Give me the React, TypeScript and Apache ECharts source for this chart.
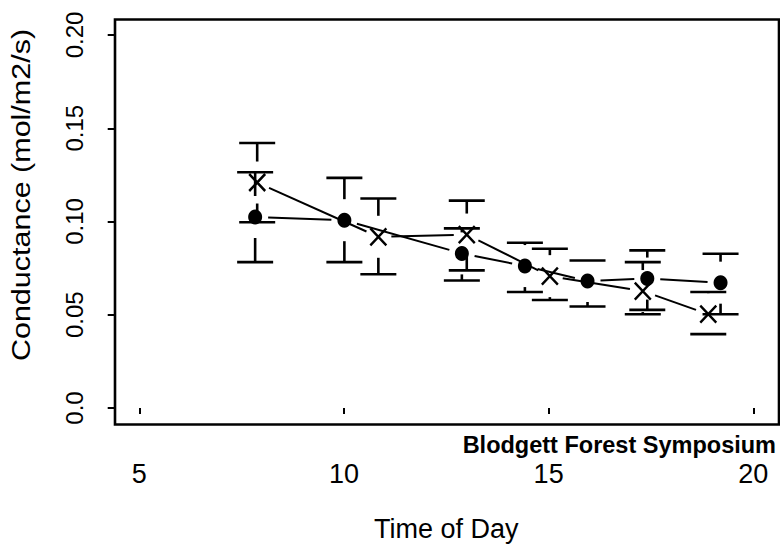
import React, { useEffect, useRef } from "react";
import * as echarts from "echarts";

// Mean conductance by time of day, two groups, with ± error limits
const dotTime = [7.83, 10.01, 12.88, 14.42, 15.95, 17.41, 19.2];
const dotMean = [0.1024, 0.1007, 0.0829, 0.0761, 0.0681, 0.0694, 0.0672];
const dotLow = [0.0782, 0.0782, 0.0684, 0.0622, 0.0544, 0.0526, 0.0503];
const dotHigh = [0.1264, 0.1234, 0.0963, 0.0886, 0.0791, 0.0845, 0.0827];

const crossTime = [7.88, 10.84, 13.0, 15.03, 17.3, 18.9];
const crossMean = [0.1209, 0.0918, 0.093, 0.0707, 0.0627, 0.0503];
const crossLow = [0.0996, 0.0717, 0.0738, 0.0579, 0.0503, 0.0396];
const crossHigh = [0.1421, 0.1123, 0.1112, 0.0854, 0.0782, 0.0622];

const xTicks = [5, 10, 15, 20];
const yTicks = [0, 0.05, 0.1, 0.15, 0.2];

const FONT = "'Liberation Sans', Arial, Helvetica, sans-serif";
const INK = "#000";
const BAR_GAP = 21; // blank space (px) between a mean and its error bar
const LINE_GAP = 13; // blank space (px) between a point and its connecting line
const CAP_HALF = 18;

function errorBarSeries(time: number[], mean: number[], low: number[], high: number[]) {
  return {
    type: "custom",
    silent: true,
    z: 3,
    data: time.map((t, i) => [t, low[i], high[i], mean[i]]),
    renderItem: (params: any, api: any) => {
      const x = api.value(0);
      const pLo = api.coord([x, api.value(1)]);
      const pHi = api.coord([x, api.value(2)]);
      const pM = api.coord([x, api.value(3)]);
      const style = { stroke: INK, lineWidth: 2.6 };
      const children: any[] = [
        { type: "line", shape: { x1: pHi[0] - CAP_HALF, y1: pHi[1], x2: pHi[0] + CAP_HALF, y2: pHi[1] }, style },
        { type: "line", shape: { x1: pLo[0] - CAP_HALF, y1: pLo[1], x2: pLo[0] + CAP_HALF, y2: pLo[1] }, style },
      ];
      if (pM[1] - BAR_GAP > pHi[1]) {
        children.push({ type: "line", shape: { x1: pM[0], y1: pHi[1], x2: pM[0], y2: pM[1] - BAR_GAP }, style });
      }
      if (pM[1] + BAR_GAP < pLo[1]) {
        children.push({ type: "line", shape: { x1: pM[0], y1: pM[1] + BAR_GAP, x2: pM[0], y2: pLo[1] }, style });
      }
      return { type: "group", children };
    },
  };
}

function gappedLineSeries(time: number[], mean: number[]) {
  const segs: number[][] = [];
  for (let i = 0; i < time.length - 1; i++) {
    segs.push([time[i], mean[i], time[i + 1], mean[i + 1]]);
  }
  return {
    type: "custom",
    silent: true,
    z: 2,
    data: segs,
    renderItem: (params: any, api: any) => {
      const a = api.coord([api.value(0), api.value(1)]);
      const b = api.coord([api.value(2), api.value(3)]);
      const dx = b[0] - a[0];
      const dy = b[1] - a[1];
      const len = Math.sqrt(dx * dx + dy * dy);
      if (len <= 2 * LINE_GAP) return { type: "group", children: [] };
      const ux = dx / len;
      const uy = dy / len;
      return {
        type: "line",
        shape: {
          x1: a[0] + ux * LINE_GAP,
          y1: a[1] + uy * LINE_GAP,
          x2: b[0] - ux * LINE_GAP,
          y2: b[1] - uy * LINE_GAP,
        },
        style: { stroke: INK, lineWidth: 2 },
      };
    },
  };
}

export default function App() {
  const ref = useRef<HTMLDivElement>(null);

  useEffect(() => {
    if (!ref.current) return;
    const chart = echarts.init(ref.current, undefined, { renderer: "svg" });
    const option: any = {
      animation: false,
      backgroundColor: "#fff",
      grid: { left: 139.3, right: 780 - 753.3, top: 35, bottom: 547 - 409, containLabel: false },
      xAxis: {
        type: "value",
        min: xTicks[0],
        max: xTicks[xTicks.length - 1],
        interval: 5,
        offset: 18,
        axisLine: { show: false },
        axisTick: { show: true, length: 6, lineStyle: { color: INK, width: 2 } },
        axisLabel: { margin: 34.5, fontSize: 27, color: INK, fontFamily: FONT },
        splitLine: { show: false },
        name: "Time of Day",
        nameLocation: "middle",
        nameGap: 89,
        nameTextStyle: { fontSize: 27, color: INK, fontFamily: FONT },
      },
      yAxis: {
        type: "value",
        min: yTicks[0],
        max: yTicks[yTicks.length - 1],
        interval: 0.05,
        offset: 24.6,
        axisLine: { show: false },
        axisTick: { show: true, length: 7, lineStyle: { color: INK, width: 2 } },
        axisLabel: {
          rotate: 90,
          margin: 28.5,
          fontSize: 24,
          color: INK,
          fontFamily: FONT,
          formatter: (v: number) => (v === 0 ? "0.0" : v.toFixed(2)),
        },
        splitLine: { show: false },
      },
      graphic: [
        {
          type: "rect",
          shape: { x: 115, y: 19.5, width: 664, height: 405 },
          style: { fill: "none", stroke: INK, lineWidth: 2.6 },
          silent: true,
        },
        {
          type: "text",
          x: 21,
          y: 195,
          rotation: Math.PI / 2,
          scaleX: 1.22,
          style: {
            text: "Conductance (mol/m2/s)",
            fontSize: 25,
            fontFamily: FONT,
            fill: INK,
            align: "center",
            verticalAlign: "middle",
            textAlign: "center",
            textVerticalAlign: "middle",
          },
        },
        {
          type: "text",
          x: 776,
          y: 445,
          style: {
            text: "Blodgett Forest Symposium",
            fontSize: 23.5,
            fontWeight: "bold",
            fontFamily: FONT,
            fill: INK,
            align: "right",
            verticalAlign: "middle",
            textAlign: "right",
            textVerticalAlign: "middle",
          },
        },
      ],
      series: [
        gappedLineSeries(dotTime, dotMean),
        gappedLineSeries(crossTime, crossMean),
        errorBarSeries(dotTime, dotMean, dotLow, dotHigh),
        errorBarSeries(crossTime, crossMean, crossLow, crossHigh),
        {
          type: "scatter",
          z: 4,
          symbol: "circle",
          symbolSize: [14, 15],
          itemStyle: { color: INK, opacity: 1 },
          data: dotTime.map((t, i) => [t, dotMean[i]]),
        },
        {
          type: "scatter",
          z: 4,
          symbol: "path://M0,0L16,17M16,0L0,17",
          symbolSize: [16, 17],
          itemStyle: { color: "none", borderColor: INK, borderWidth: 2.5, opacity: 1 },
          data: crossTime.map((t, i) => [t, crossMean[i]]),
        },
      ],
    };
    chart.setOption(option);
    return () => chart.dispose();
  }, []);

  return (
    <div
      ref={ref}
      style={{ position: "fixed", left: 0, top: 0, width: 780, height: 547, background: "#fff" }}
    />
  );
}
